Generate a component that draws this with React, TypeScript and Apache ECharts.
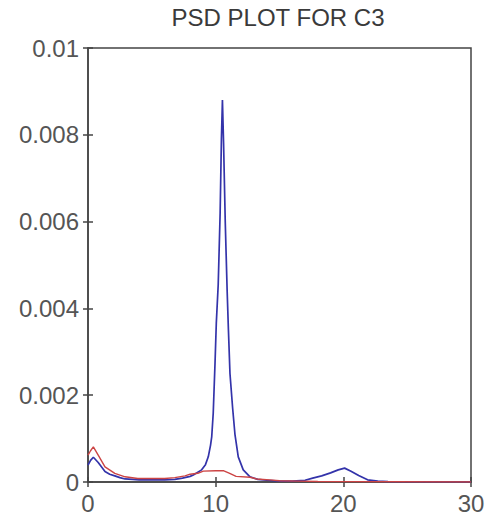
import React, { useEffect, useRef } from "react";
import * as echarts from "echarts";

const titleText = "PSD PLOT FOR C3";
const xTicks = [0, 10, 20, 30];
const yTicks = [0, 0.002, 0.004, 0.006, 0.008, 0.01];

const blueFreq = [
  0, 0.2, 0.42, 0.8, 1.33, 1.7, 2.1, 2.5, 2.9, 3.5, 4.0, 5.0, 6.0, 6.8, 7.4, 8.0, 8.25, 8.9,
  9.2, 9.42, 9.6, 9.69, 9.81, 9.95, 10.05, 10.2, 10.35, 10.45, 10.53, 10.62, 10.75, 10.9,
  11.0, 11.12, 11.33, 11.51, 11.77, 12.16, 12.69, 13.3, 14.0, 15.0, 16.0, 17.0, 17.6, 18.3,
  19.0, 19.6, 20.1, 20.6, 21.2, 21.9, 22.7, 23.5, 30,
];
const blueValue = [
  0.00039, 0.0005, 0.00057, 0.00045, 0.00024, 0.00018, 0.00014, 0.0001, 0.00007, 0.00006,
  0.00005, 0.00005, 0.00005, 0.00006, 0.00009, 0.00013, 0.00016, 0.00028, 0.0004, 0.00058,
  0.00085, 0.00104, 0.00159, 0.00274, 0.00366, 0.00455, 0.0062, 0.0079, 0.0088, 0.0078,
  0.006, 0.0044, 0.0035, 0.0025, 0.0017, 0.0011, 0.00058, 0.00028, 0.00012, 0.00006,
  0.00004, 0.00002, 0.00002, 0.00004, 0.00009, 0.00014, 0.00021, 0.00028, 0.00032, 0.00025,
  0.00015, 0.00005, 0.00002, 0.00001, 0,
];

const redFreq = [
  0, 0.2, 0.42, 0.8, 1.33, 2.1, 2.9, 3.9, 5.0, 6.0, 6.8, 7.6, 8.0, 8.6, 9.03, 10.0, 10.6,
  11.1, 11.6, 12.7, 13.2, 14.25, 15.0, 16.5, 18.0, 30,
];
const redValue = [
  0.00062, 0.00072, 0.00081, 0.00062, 0.00035, 0.0002, 0.00012, 0.00008, 0.00008, 0.00008,
  0.0001, 0.00014, 0.00018, 0.0002, 0.00025, 0.00026, 0.00026, 0.0002, 0.00013, 0.00011,
  0.00007, 0.00005, 0.00003, 0.00002, 0.00001, 0,
];

const blueData = blueFreq.map((f, i) => [f, blueValue[i]]);
const redData = redFreq.map((f, i) => [f, redValue[i]]);

export default function App() {
  const ref = useRef<HTMLDivElement>(null);
  useEffect(() => {
    document.body.style.margin = "0";
    if (!ref.current) return;
    const chart = echarts.init(ref.current, null, { renderer: "svg" });
    const font = "Liberation Sans, Arial, sans-serif";
    const axisColor = "#444444";
    const labelColor = "#555555";
    const fmt = (v: number) => String(parseFloat(v.toFixed(4)));
    chart.setOption({
      animation: false,
      backgroundColor: "#ffffff",
      graphic: [
        {
          type: "text",
          x: 278,
          y: 5,
          style: {
            text: titleText,
            fontSize: 24,
            fontFamily: font,
            fill: "#3a3a3a",
            textAlign: "center",
            textVerticalAlign: "top",
          },
        },
      ],
      grid: {
        left: 88,
        right: 18,
        top: 48,
        bottom: 37,
        show: true,
        borderColor: axisColor,
        borderWidth: 1.5,
        backgroundColor: "transparent",
      },
      xAxis: [
        {
          type: "value",
          min: 0,
          max: 30,
          interval: 10,
          position: "bottom",
          axisLine: { show: true, lineStyle: { color: axisColor, width: 1.5 } },
          axisTick: { show: true, inside: true, length: 5, lineStyle: { color: axisColor, width: 1.5 } },
          axisLabel: {
            show: true,
            margin: 9,
            fontSize: 24,
            fontFamily: font,
            color: labelColor,
            formatter: (v: number) => (xTicks.includes(v) ? String(v) : ""),
          },
          splitLine: { show: false },
        },
        {
          type: "value",
          min: 0,
          max: 30,
          interval: 10,
          position: "top",
          axisLine: { show: false },
          axisTick: { show: true, inside: true, length: 5, lineStyle: { color: axisColor, width: 1.5 } },
          axisLabel: { show: false },
          splitLine: { show: false },
        },
      ],
      yAxis: [
        {
          type: "value",
          min: 0,
          max: 0.01,
          interval: 0.002,
          position: "left",
          axisLine: { show: true, lineStyle: { color: axisColor, width: 1.5 } },
          axisTick: { show: true, inside: true, length: 5, lineStyle: { color: axisColor, width: 1.5 } },
          axisLabel: {
            show: true,
            margin: 9,
            fontSize: 24,
            fontFamily: font,
            color: labelColor,
            formatter: (v: number) => {
              const s = fmt(v);
              return yTicks.some((t) => Math.abs(t - v) < 1e-9) ? s : "";
            },
          },
          splitLine: { show: false },
        },
        {
          type: "value",
          min: 0,
          max: 0.01,
          interval: 0.002,
          position: "right",
          axisLine: { show: false },
          axisTick: { show: true, inside: true, length: 5, lineStyle: { color: axisColor, width: 1.5 } },
          axisLabel: { show: false },
          splitLine: { show: false },
        },
      ],
      series: [
        {
          type: "line",
          name: "blue",
          xAxisIndex: 0,
          yAxisIndex: 0,
          data: blueData,
          showSymbol: false,
          lineStyle: { color: "#3333aa", width: 1.7 },
          itemStyle: { color: "#3333aa" },
          z: 2,
        },
        {
          type: "line",
          name: "red",
          xAxisIndex: 0,
          yAxisIndex: 0,
          data: redData,
          showSymbol: false,
          lineStyle: { color: "#cc4444", width: 1.4 },
          itemStyle: { color: "#cc4444" },
          z: 3,
        },
      ],
    });
    return () => chart.dispose();
  }, []);
  return <div ref={ref} style={{ width: 489, height: 519 }} />;
}
